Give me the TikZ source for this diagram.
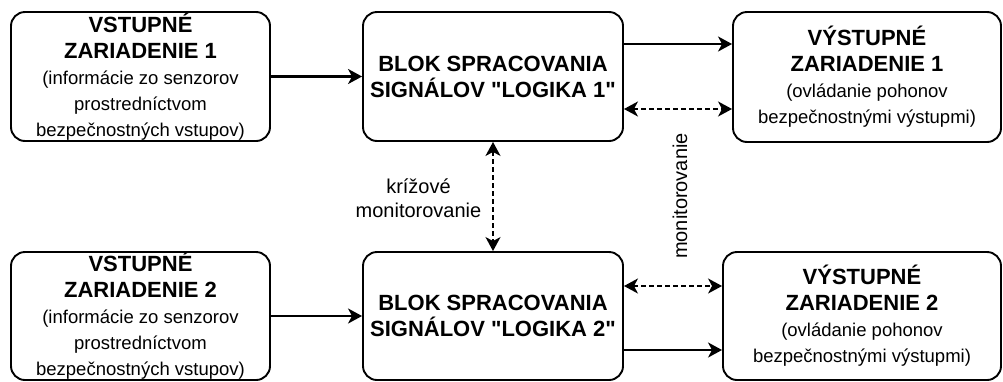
\documentclass[tikz,border=0pt]{standalone}
\usepackage{fontspec}
\setmainfont{Liberation Sans}[Ligatures=TeXOff]
\usetikzlibrary{arrows.meta,positioning}
\newcommand\titlef{\fontsize{22}{26}\selectfont\bfseries}
\newcommand\subf{\fontsize{18.5}{25}\selectfont\mdseries}
\newcommand\labf{\fontsize{20}{23.5}\selectfont}

\begin{document}
\begin{tikzpicture}[x=1pt, y=-1pt, >={Stealth[length=14pt,width=15pt,inset=4pt]},
    box/.style={rectangle, draw, line width=1.9pt, rounded corners=14pt, inner sep=0pt, align=center, font=\titlef},
    arr/.style={->, line width=2.2pt},
    mon/.style={<->, line width=1.8pt, dash pattern=on 4.5pt off 3.5pt}]
    \useasboundingbox (0,0) rectangle (1003,381);

    \node[box, minimum width=259pt, minimum height=129pt] (in1) at (140.5,76.5)
        {VSTUPNÉ\\ZARIADENIE 1\\\subf (informácie zo senzorov\\\subf prostredníctvom\\\subf bezpečnostných vstupov)};
    \node[box, minimum width=259pt, minimum height=128pt] (in2) at (140.5,316)
        {VSTUPNÉ\\ZARIADENIE 2\\\subf (informácie zo senzorov\\\subf prostredníctvom\\\subf bezpečnostných vstupov)};
    \node[box, minimum width=260pt, minimum height=129pt] (log1) at (493,76.5)
        {BLOK SPRACOVANIA\\SIGNÁLOV "LOGIKA 1"};
    \node[box, minimum width=260pt, minimum height=128pt] (log2) at (493,316)
        {BLOK SPRACOVANIA\\SIGNÁLOV "LOGIKA 2"};
    \node[box, minimum width=268pt, minimum height=130pt] (out1) at (867,77)
        {VÝSTUPNÉ\\ZARIADENIE 1\\\subf (ovládanie pohonov\\\subf bezpečnostnými výstupmi)};
    \node[box, minimum width=278pt, minimum height=128pt] (out2) at (862,316)
        {VÝSTUPNÉ\\ZARIADENIE 2\\\subf (ovládanie pohonov\\\subf bezpečnostnými výstupmi)};

    \draw[arr] (in1) -- (log1);
    \draw[arr] (in2) -- (log2);
    \draw[arr] ([yshift=32.5pt]log1.east) -- ([yshift=32.5pt]log1.east -| out1.west);
    \draw[arr] ([yshift=-34pt]log2.east) -- ([yshift=-34pt]log2.east -| out2.west);

    \draw[mon] ([yshift=-32.5pt]log1.east) -- ([yshift=-32.5pt]log1.east -| out1.west);
    \draw[mon] ([yshift=30pt]log2.east) -- ([yshift=30pt]log2.east -| out2.west);
    \draw[mon] (log1) -- (log2);

    \node[align=center, font=\labf] (cross) at (418.5,198) {krížové\\monitorovanie};
    \node[rotate=90, font=\labf] (moni) at (680,196) {monitorovanie};
\end{tikzpicture}
\end{document}
